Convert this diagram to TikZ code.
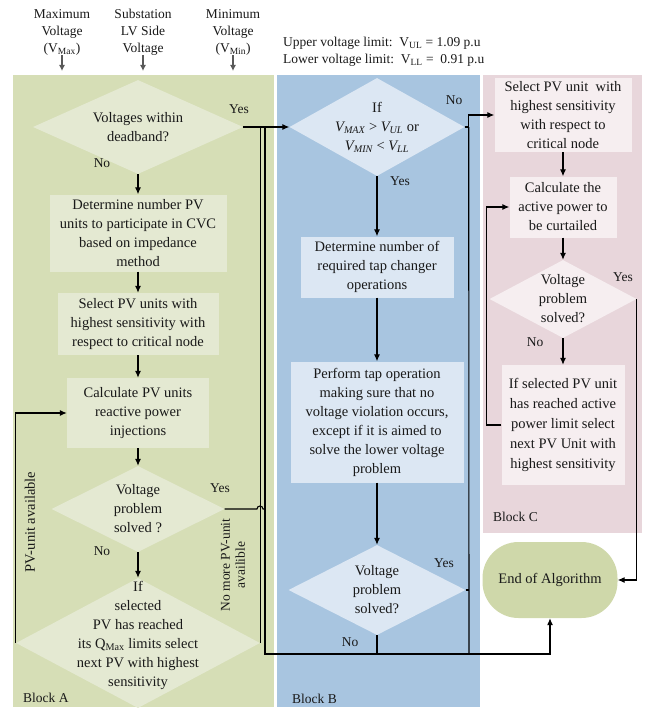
\documentclass[tikz,border=0pt]{standalone}
\usepackage{fontspec}
\setmainfont{Liberation Serif}
\usetikzlibrary{shapes.geometric,arrows.meta}
\definecolor{blocka}{RGB}{214,222,182}
\definecolor{boxa}{RGB}{228,233,210}
\definecolor{blockb}{RGB}{168,197,224}
\definecolor{boxb}{RGB}{220,231,243}
\definecolor{blockc}{RGB}{232,214,219}
\definecolor{boxc}{RGB}{246,238,240}
\definecolor{endc}{RGB}{207,216,170}
\begin{document}
\begin{tikzpicture}[x=1pt,y=-1pt,
  every node/.style={inner sep=0pt,align=center,text=black!90,font=\fontsize{14.5}{19}\selectfont},
  hd/.style={font=\fontsize{13.5}{17}\selectfont},
  yn/.style={font=\fontsize{13.5}{16}\selectfont},
  dia/.style={diamond,inner sep=0pt},
  arr/.style={line width=1.1pt,-{Latex[length=7pt,width=6pt]}},
  harr/.style={line width=1.1pt,black!65,-{Latex[length=6pt,width=6pt]}},
  ln/.style={line width=1.1pt}]
  \useasboundingbox (0,0) rectangle (647,717);
  \fill[blocka] (13,75) rectangle (274,707);
  \fill[blockb] (277,75) rectangle (480,707);
  \fill[blockc] (483,75) rectangle (642,533);
  \coordinate (top) at (0,71);
  \coordinate (j1) at (265,654);
  \coordinate (j2) at (469,654);
  \node[hd] (h1) at (62,32) {Maximum\\Voltage\\(V\textsubscript{Max})};
  \node[hd] (h2) at (143,32) {Substation\\LV Side\\Voltage};
  \node[hd] (h3) at (233,32) {Minimum\\Voltage\\(V\textsubscript{Min})};
  \node[hd,anchor=west,align=left] (lim) at (283,52) {Upper voltage limit:~~V\textsubscript{UL} = 1.09 p.u\\Lower voltage limit:~~V\textsubscript{LL} =~~0.91 p.u};
  \draw[harr] (h1.south) -- (h1.south |- top);
  \draw[harr] (h2.south) -- (h2.south |- top);
  \draw[harr] (h3.south) -- (h3.south |- top);
  \node[dia,fill=boxa,minimum width=210,minimum height=94] (d1) at (138,127) {};
  \node (t1) at (d1) {Voltages within\\deadband?};
  \node[fill=boxa,minimum width=177,minimum height=77] (a1) at (138,233) {Determine number PV\\units to participate in CVC\\based on impedance\\method};
  \node[fill=boxa,minimum width=161,minimum height=62] (a2) at (138,324) {Select PV units with\\highest sensitivity with\\respect to critical node};
  \node[fill=boxa,minimum width=142,minimum height=70] (a3) at (138,413) {Calculate PV units\\reactive power\\injections};
  \node[dia,fill=boxa,minimum width=173,minimum height=86] (d2) at (138,509) {};
  \node (t2) at (d2) {Voltage\\problem\\solved ?};
  \node[dia,fill=boxa,minimum width=244,minimum height=130] (d3) at (138,643) {};
  \node (t3) at (138,635) {If\\selected\\PV has reached\\its Q\textsubscript{Max} limits select\\next PV with highest\\sensitivity};
  \node[dia,fill=boxb,minimum width=175,minimum height=98] (dB1) at (377,127) {};
  \node (tB1) at (dB1) {If\\\textit{V\textsubscript{MAX}} > \textit{V\textsubscript{UL}} or\\\textit{V\textsubscript{MIN}} < \textit{V\textsubscript{LL}}};
  \node[fill=boxb,minimum width=153,minimum height=61] (b1) at (377,267) {Determine number of\\required tap changer\\operations};
  \node[fill=boxb,minimum width=173,minimum height=121] (b2) at (377,422) {Perform tap operation\\making sure that no\\voltage violation occurs,\\except if it is aimed to\\solve the lower voltage\\problem};
  \node[dia,fill=boxb,minimum width=177,minimum height=90] (dB2) at (377,590) {};
  \node (tB2) at (dB2) {Voltage\\problem\\solved?};
  \node[fill=boxc,minimum width=137,minimum height=74] (c1) at (563,115) {Select PV unit~~with\\highest sensitivity\\with respect to\\critical node};
  \node[fill=boxc,minimum width=107,minimum height=61] (c2) at (563,207) {Calculate the\\active power to\\be curtailed};
  \node[dia,fill=boxc,minimum width=147,minimum height=78] (dC) at (563,299) {};
  \node (tC) at (dC) {Voltage\\problem\\solved?};
  \node[fill=boxc,minimum width=123,minimum height=120,font=\fontsize{14.5}{20}\selectfont] (c3) at (563,425) {If selected PV unit\\has reached active\\power limit select\\next PV Unit with\\highest sensitivity};
  \node[fill=endc,rounded corners=36pt,minimum width=135,minimum height=76] (end) at (550,580) {End of Algorithm};
  \node[yn] (y1) at (239,109) {Yes};
  \node[yn] (n1) at (102,163) {No};
  \node[yn] (y2) at (220,488) {Yes};
  \node[yn] (n2) at (102,551) {No};
  \node[yn] (n3) at (454,100) {No};
  \node[yn] (y3) at (400,181) {Yes};
  \node[yn] (y4) at (444,563) {Yes};
  \node[yn] (n4) at (350,642) {No};
  \node[yn] (y5) at (623,277) {Yes};
  \node[yn] (n5) at (535,342) {No};
  \node[rotate=90] (pv) at (30,522) {PV-unit available};
  \node[rotate=90,font=\fontsize{13.5}{15}\selectfont] (nomore) at (233,565) {No more PV-unit\\availible};
  \node[hd,anchor=west] (la) at (23,698) {Block A};
  \node[hd,anchor=west] (lb) at (292,699) {Block B};
  \node[hd,anchor=west] (lc) at (493,517) {Block C};
  \draw[arr] (d1.south) -- (a1.north);
  \draw[arr] (a1.south) -- (a2.north);
  \draw[arr] (a2.south) -- (a3.north);
  \draw[arr] (a3.south) -- (d2.north);
  \draw[arr] (d2.south) -- (d3.north);
  \draw[arr] (d3.west) |- (a3.west);
  \draw[arr] (d1.east) -- (dB1.west);
  \draw[ln] (d3.east) -- (d3.east |- d1.east);
  \draw[arr] (d1.east) -| (j1) -| (end.south);
  \draw[ln] (d2.east) -- (257,509) arc[start angle=180,end angle=0,radius=3pt] -- (265,509);
  \draw[arr] (dB1.south) -- (b1.north);
  \draw[arr] (b1.south) -- (b2.north);
  \draw[arr] (b2.south) -- (dB2.north);
  \draw[arr] (dB1.east) -- ++(4,0) |- (c1.west);
  \draw[ln] (dB1.east) ++(4,0) -- (j2);
  \draw[ln] (dB2.east) -- (dB2.east -| j2);
  \draw[ln] (dB2.south) -- (dB2.south |- j2);
  \draw[arr] (c1.south) -- (c2.north);
  \draw[arr] (c2.south) -- (dC.north);
  \draw[arr] (dC.south) -- (c3.north);
  \draw[arr] (c3.west) -- ++(-15,0) |- (c2.west);
  \draw[arr] (dC.east) |- (end.east);
\end{tikzpicture}
\end{document}
